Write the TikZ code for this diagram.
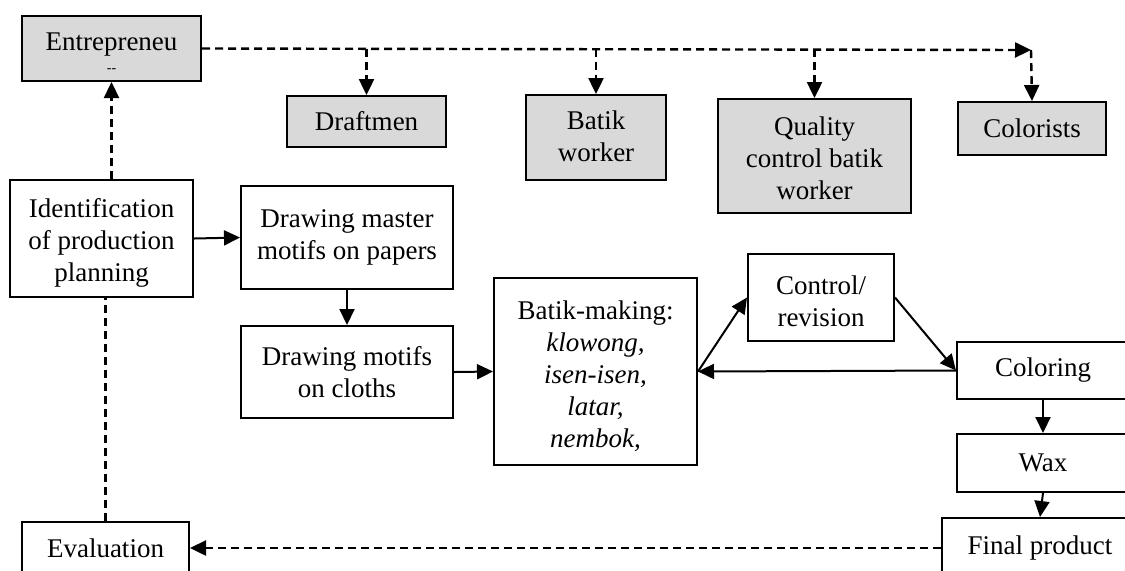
\documentclass[tikz,border=0pt]{standalone}
\usepackage{fontspec}
\setmainfont{Liberation Serif}
\usetikzlibrary{arrows.meta}
\definecolor{boxgray}{RGB}{217,217,217}
\newcommand\lowlines[2]{\raisebox{-#1}[\height][\depth]{\begin{tabular}{@{}c@{}}#2\end{tabular}}}

\begin{document}
\begin{tikzpicture}[x=0.5pt,y=-0.5pt,
	procbox/.style={draw,line width=1pt,inner sep=0pt,align=center,font=\fontsize{13.5}{16}\selectfont},
	actorbox/.style={procbox,fill=boxgray},
	flow/.style={line width=1pt,-{Triangle[length=8pt,width=7.5pt]}},
	dashflow/.style={flow,line width=1.2pt,dash pattern=on 4pt off 2.5pt}]
	\useasboundingbox (0,0) rectangle (1125,570);
	\clip (0,0) rectangle (1125,570);

	\node[actorbox,minimum width=89.5pt,minimum height=32.5pt] (entre) at (111.5,48.5) {\lowlines{3.5pt}{Entrepreneu\\[-5pt]{\scriptsize -{}-}}};
	\node[actorbox,minimum width=79.5pt,minimum height=25.5pt] (draft) at (366.5,121.5) {Draftmen};
	\node[actorbox,minimum width=70pt,minimum height=42.5pt] (worker) at (596,137.5) {\lowlines{1pt}{Batik\\worker}};
	\node[actorbox,minimum width=96.5pt,minimum height=57pt] (qc) at (814.5,156) {\lowlines{2.5pt}{Quality\\control batik\\worker}};
	\node[actorbox,minimum width=74pt,minimum height=26.5pt] (color) at (1032,128.5) {Colorists};

	\node[procbox,minimum width=91.5pt,minimum height=58.5pt] (ident) at (101.5,238.5) {\lowlines{2.5pt}{Identification\\of production\\planning}};
	\node[procbox,minimum width=106pt,minimum height=51.5pt] (master) at (347,237.5) {Drawing master\\motifs on papers};
	\node[procbox,minimum width=106pt,minimum height=46pt] (motifs) at (347,372) {Drawing motifs\\on cloths};
	\node[procbox,minimum width=101.5pt,minimum height=93.5pt] (batik) at (595.5,371.5) {\lowlines{3pt}{Batik-making:\\\textit{klowong,}\\\textit{isen-isen,}\\\textit{latar,}\\\textit{nembok,}}};
	\node[procbox,minimum width=73pt,minimum height=43.5pt] (control) at (821,297.5) {\lowlines{3.5pt}{Control/\\revision}};
	\node[procbox,minimum width=86pt,minimum height=28.5pt] (coloring) at (1043,370.5) {Coloring};
	\node[procbox,minimum width=86pt,minimum height=29pt] (wax) at (1043,463) {Wax};
	\node[procbox,minimum width=98pt,minimum height=30pt] (final) at (1040,548) {Final product};
	\node[procbox,minimum width=83.5pt,minimum height=26pt] (eval) at (105.5,548) {Evaluation};

	% entrepreneur to the workers
	\coordinate (cEnd) at (1031,50);
	\draw[dashflow] (entre.east) -- (cEnd);
	\draw[dashflow] (cEnd) -- (color.north);
	\draw[dashflow] (draft.north |- entre.east) -- (draft.north);
	\draw[dashflow] (worker.north |- entre.east) -- (worker.north);
	\draw[dashflow] (qc.north |- entre.east) -- (qc.north);

	% feedback
	\draw[dashflow] (entre.south |- ident.north) -- (entre.south);
	\draw[dashflow,-] (eval.north) -- (eval.north |- ident.south);
	\draw[dashflow] (final.west) -- (eval.east);

	% production flow
	\draw[flow] (ident.east) -- (master.west);
	\draw[flow] (master.south) -- (motifs.north);
	\draw[flow] (motifs.east) -- (batik.west);
	\draw[flow] (batik.east) -- (control.west);
	\draw[flow] (control.east) -- (coloring.west);
	\draw[flow] (coloring.west) -- (batik.east);
	\draw[flow] (coloring.south) -- (wax.north);
	\draw[flow] (wax.south) -- (final.north);
\end{tikzpicture}
\end{document}
